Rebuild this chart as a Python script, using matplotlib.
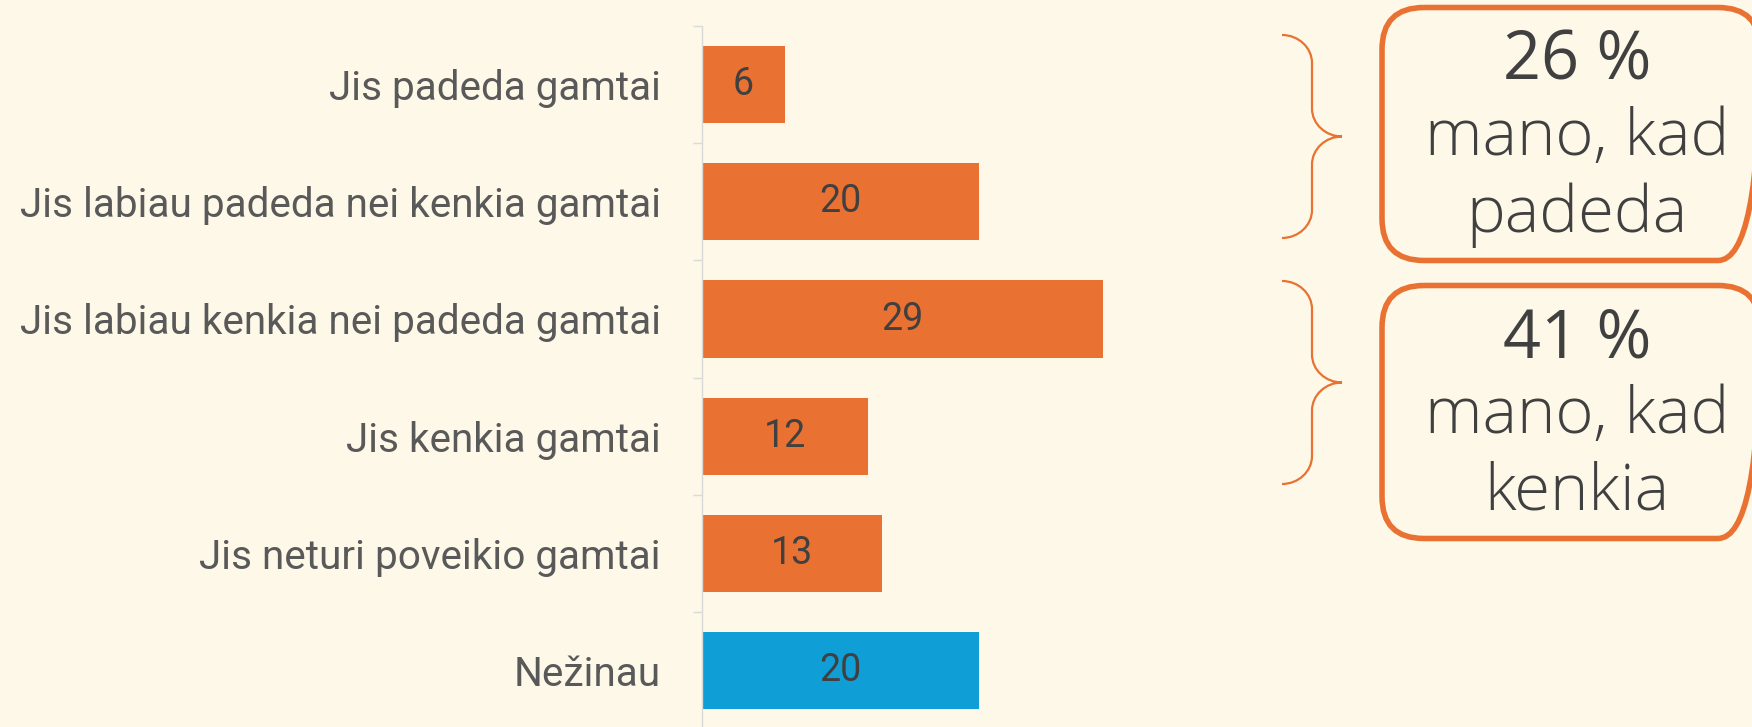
import matplotlib
matplotlib.use("Agg")
import matplotlib.pyplot as plt
from matplotlib import font_manager
from matplotlib.patches import FancyBboxPatch, PathPatch
from matplotlib.path import Path
import numpy as np

# data
labels = ["Jis padeda gamtai",
          "Jis labiau padeda nei kenkia gamtai",
          "Jis labiau kenkia nei padeda gamtai",
          "Jis kenkia gamtai",
          "Jis neturi poveikio gamtai",
          "Nežinau"]
values = [6, 20, 29, 12, 13, 20]
bar_colors = ["#E97132", "#E97132", "#E97132", "#E97132", "#E97132", "#0F9ED5"]

group_pct = ["26 %", "41 %"]
group_text = [["mano, kad", "padeda"], ["mano, kad", "kenkia"]]

bg = "#FDF8E8"
orange = "#E97132"
W, H = 1752, 727


def pick_light(cands):
    for fam in cands:
        try:
            p = font_manager.findfont(font_manager.FontProperties(family=fam, weight="light"),
                                      fallback_to_default=False)
        except Exception:
            continue
        if "light" in p.lower():
            return fam, "light"
    return "DejaVu Sans", "normal"


light_family, light_weight = pick_light(["Open Sans", "Noto Sans", "Lato", "Roboto"])

fig = plt.figure(figsize=(W / 100, H / 100), dpi=100, facecolor=bg)

# bar axes, laid out in pixels
ax_x, ax_top, step, ax_w = 702, 26, 117.2, 560
px_per_unit = 13.83
n = len(labels)
ax = fig.add_axes([ax_x / W, (H - ax_top - n * step) / H, ax_w / W, n * step / H])
ax.set_facecolor(bg)

y = np.arange(n)
ax.barh(y, values, height=0.66, color=bar_colors, zorder=2)
ax.set_xlim(0, ax_w / px_per_unit)
ax.set_ylim(n - 0.5, -0.5)

for s in ["top", "right", "bottom"]:
    ax.spines[s].set_visible(False)
ax.spines["left"].set_color("#D9D9D9")
ax.spines["left"].set_linewidth(1.0)
ax.set_xticks([])
ax.set_yticks(y)
ax.set_yticklabels(labels, fontfamily="Roboto", fontsize=29.2, color="#595959")
ax.tick_params(axis="y", which="major", length=0, pad=29.5)
ax.set_yticks(np.arange(-0.5, n, 1), minor=True)
ax.tick_params(axis="y", which="minor", length=6.5, width=1.0, color="#D9D9D9", direction="out")

for i, v in enumerate(values):
    ax.text(v / 2, i, str(v), ha="center", va="center", fontfamily="Roboto",
            fontsize=27, color="#404040", zorder=3)

# overlay in pixel coordinates for braces and boxes
dax = fig.add_axes([0, 0, 1, 1])
dax.set_xlim(0, W)
dax.set_ylim(H, 0)
dax.axis("off")
dax.patch.set_alpha(0)

brace_tops = [35, 281]
brace_h = 203
x0, xs, xt = 1282, 1312, 1342
r = 28
for yt in brace_tops:
    yb = yt + brace_h
    ym = (yt + yb) / 2
    verts = [(x0, yt), (x0 + (xs - x0) * 0.55, yt), (xs, yt + r * 0.45), (xs, yt + r),
             (xs, ym - r),
             (xs, ym - r * 0.45), (xs + (xt - xs) * 0.45, ym), (xt, ym),
             (xs + (xt - xs) * 0.45, ym), (xs, ym + r * 0.45), (xs, ym + r),
             (xs, yb - r),
             (xs, yb - r * 0.45), (x0 + (xs - x0) * 0.55, yb), (x0, yb)]
    codes = [Path.MOVETO, Path.CURVE4, Path.CURVE4, Path.CURVE4,
             Path.LINETO,
             Path.CURVE4, Path.CURVE4, Path.CURVE4,
             Path.CURVE4, Path.CURVE4, Path.CURVE4,
             Path.LINETO,
             Path.CURVE4, Path.CURVE4, Path.CURVE4]
    dax.add_patch(PathPatch(Path(verts, codes), facecolor="none", edgecolor=orange, lw=1.6))

box_tops = [7.5, 285.5]
box_h = 253
box_x, box_w = 1382, 378
text_cx = 1577
line_offsets = [72.5, 147.5, 224.5]   # baselines below box line
for k, bt in enumerate(box_tops):
    dax.add_patch(FancyBboxPatch((box_x, bt), box_w, box_h,
                                 boxstyle="round,pad=0,rounding_size=42",
                                 facecolor="none", edgecolor=orange, lw=4.0))
    lines = [group_pct[k]] + group_text[k]
    for j, line in enumerate(lines):
        dax.text(text_cx, bt + line_offsets[j], line, ha="center", va="baseline",
                 fontfamily=light_family,
                 fontweight="normal" if j == 0 else light_weight,
                 fontsize=48 if j == 0 else 47, color="#404040")

fig.savefig("out.png", dpi=100, facecolor=bg)
